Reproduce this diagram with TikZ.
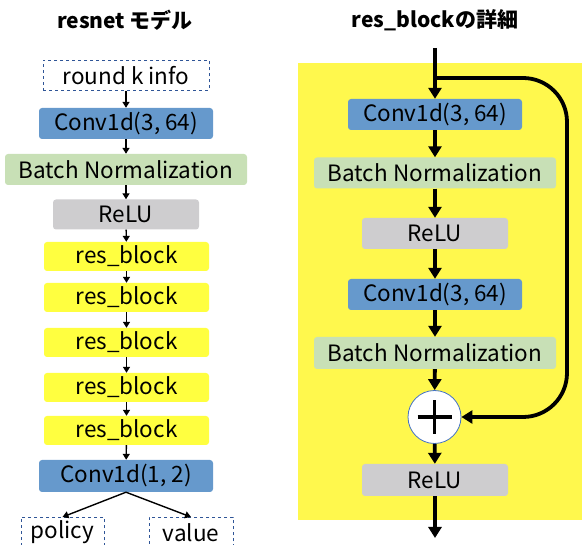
\documentclass[tikz,border=0pt]{standalone}
\usepackage{fontspec}
\setmainfont{Noto Sans CJK JP}
\usetikzlibrary{arrows.meta}
\definecolor{convblue}{RGB}{102,153,204}
\definecolor{bngreen}{RGB}{200,224,182}
\definecolor{relugray}{RGB}{206,205,207}
\definecolor{rbyellow}{RGB}{255,255,64}
\definecolor{bgyellow}{RGB}{255,248,77}
\definecolor{dashblue}{RGB}{47,85,151}
\definecolor{circblue}{RGB}{68,114,196}
\tikzset{
  box/.style={rounded corners=3pt, inner sep=0pt, font=\fontsize{22.5}{24}\selectfont, text=black},
  convbox/.style={box, fill=convblue, minimum width=174pt, minimum height=31pt},
  bnbox/.style={box, fill=bngreen, minimum width=242pt, minimum height=31pt},
  relubox/.style={box, fill=relugray, minimum width=146pt, minimum height=30pt},
  rbbox/.style={box, fill=rbyellow, minimum width=165pt, minimum height=29pt},
  iobox/.style={draw=dashblue, dashed, line width=0.8pt, inner sep=0pt, font=\fontsize{22.5}{24}\selectfont},
  thin arrow/.style={line width=1.4pt, -{Triangle[length=6pt,width=7pt]}},
  thick arrow/.style={line width=3.8pt, -{Triangle[length=11pt,width=13pt]}},
  title/.style={font=\fontsize{21}{23}\selectfont\bfseries}
}
\begin{document}
\begin{tikzpicture}[x=1pt,y=-1pt]
\useasboundingbox (0,0) rectangle (582,545);
% titles
\node[title] (t1) at (125,20) {resnet モデル};
\node[title] (t2) at (435,20) {res\_blockの詳細};
% left column
\node[iobox, minimum width=166pt, minimum height=30pt] (rki) at (126,75.5) {round k info};
\node[convbox] (c1) at (126,123.5) {Conv1d(3, 64)};
\node[bnbox] (bn) at (126,169.5) {Batch Normalization};
\node[relubox] (relu) at (126,214.5) {ReLU};
\node[rbbox] (rb1) at (126.5,256.5) {res\_block};
\node[rbbox] (rb2) at (126.5,297.5) {res\_block};
\node[rbbox] (rb3) at (126.5,342.5) {res\_block};
\node[rbbox] (rb4) at (126.5,387.5) {res\_block};
\node[rbbox] (rb5) at (126.5,430.5) {res\_block};
\node[convbox, minimum height=32pt] (c2) at (126,476) {Conv1d(1, 2)};
\node[iobox, minimum width=83pt, minimum height=30pt, anchor=north] (pol) at (62.5,517) {policy};
\node[iobox, minimum width=84pt, minimum height=30pt, anchor=north] (val) at (191,517) {value};
\draw[thin arrow] (rki) -- (c1);
\draw[thin arrow] (c1) -- (bn);
\draw[thin arrow] (bn) -- (relu);
\draw[thin arrow] (relu) -- (rb1);
\draw[thin arrow] (rb1) -- (rb2);
\draw[thin arrow] (rb2) -- (rb3);
\draw[thin arrow] (rb3) -- (rb4);
\draw[thin arrow] (rb4) -- (rb5);
\draw[thin arrow] (rb5) -- (c2);
\draw[thin arrow] (c2.south) -- (pol.north);
\draw[thin arrow] (c2.south) -- (val.north);
% right column
\fill[bgyellow] (298,63) rectangle (582,520);
\coordinate (top) at (435,48);
\coordinate (split) at (435,78);
\coordinate (bot) at (435,538);
\node[convbox] (rc1) at (435,114.5) {Conv1d(3, 64)};
\node[bnbox] (rbn1) at (435,173) {Batch Normalization};
\node[relubox, minimum height=31pt] (rrelu1) at (435,233.5) {ReLU};
\node[convbox] (rc2) at (435,294.5) {Conv1d(3, 64)};
\node[bnbox, minimum height=32pt] (rbn2) at (435,353) {Batch Normalization};
\node[circle, draw=circblue, fill=white, line width=0.8pt, minimum size=53pt, inner sep=0pt] (plus) at (434.5,417) {};
\draw[line width=3.2pt] ([xshift=-17pt]plus.center) -- ([xshift=17pt]plus.center);
\draw[line width=3.2pt] ([yshift=-17pt]plus.center) -- ([yshift=17pt]plus.center);
\node[relubox, minimum height=32pt] (rrelu2) at (435,480) {ReLU};
\draw[thick arrow] (top) -- (rc1);
\draw[thick arrow] (rc1) -- (rbn1);
\draw[thick arrow] (rbn1) -- (rrelu1);
\draw[thick arrow] (rrelu1) -- (rc2);
\draw[thick arrow] (rc2) -- (rbn2);
\draw[thick arrow] (rbn2) -- (plus);
\draw[thick arrow] (plus) -- (rrelu2);
\draw[thick arrow] (rrelu2) -- (bot);
\draw[thick arrow, rounded corners=44pt] (split) -- (567,78) -- (567,417) -- (plus.east);
\end{tikzpicture}
\end{document}
